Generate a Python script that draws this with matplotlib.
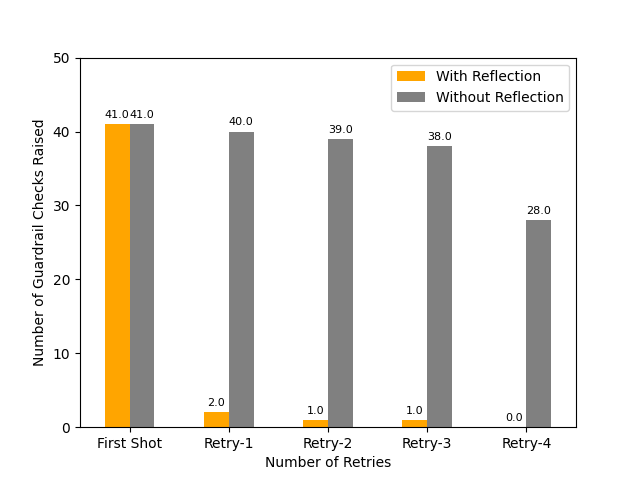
import matplotlib
matplotlib.use("Agg")
import matplotlib.pyplot as plt
import numpy as np

categories = ["First Shot", "Retry-1", "Retry-2", "Retry-3", "Retry-4"]
with_reflection = [41, 2, 1, 1, 0]
without_reflection = [41, 40, 39, 38, 28]

x = np.arange(len(categories))
width = 0.25

fig, ax = plt.subplots(figsize=(6.4, 4.8), dpi=100)
b1 = ax.bar(x - width / 2, with_reflection, width, label="With Reflection", color="orange")
b2 = ax.bar(x + width / 2, without_reflection, width, label="Without Reflection", color="grey")

for bars in (b1, b2):
    for bar in bars:
        h = bar.get_height()
        ax.annotate(f"{float(h)}", xy=(bar.get_x() + bar.get_width() / 2, h),
                    xytext=(0, 3), textcoords="offset points",
                    ha="center", va="bottom", fontsize=8)

ax.set_xticks(x)
ax.set_xticklabels(categories)
ax.set_xlim(-0.5, len(categories) - 0.5)
ax.set_ylim(0, 50)
ax.set_xlabel("Number of Retries")
ax.set_ylabel("Number of Guardrail Checks Raised")
ax.legend()

plt.savefig("out.png")
